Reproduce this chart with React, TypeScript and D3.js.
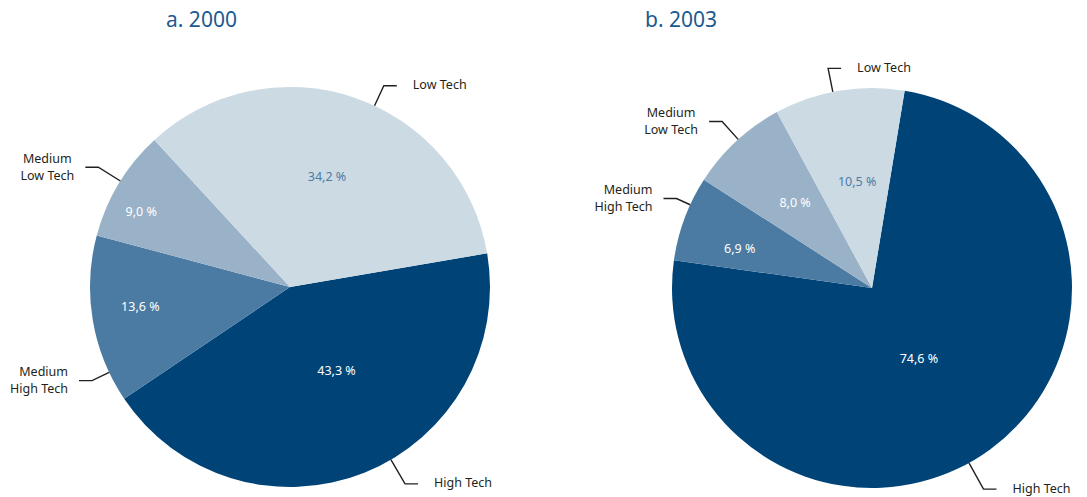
import React from "react";
import * as d3 from "d3";

const categories = ["High Tech", "Medium High Tech", "Medium Low Tech", "Low Tech"];
const values2000 = [43.3, 13.6, 9.0, 34.2];
const values2003 = [74.6, 6.9, 8.0, 10.5];
const titles = ["a. 2000", "b. 2003"];
const nameLines = [["High Tech"], ["Medium", "High Tech"], ["Medium", "Low Tech"], ["Low Tech"]];

const colors = ["#004477", "#4b7aa3", "#9ab2c8", "#ccdae3"];
const pctColors = ["#ffffff", "#ffffff", "#ffffff", "#4e7ca6"];

const W = 1087;
const H = 497;

type Leader = { angle: number; elbow: number; side: "left" | "right"; anchor: "end" | "middle" | "start" };
type PieLayout = {
  cx: number; cy: number; r: number; start: number; titleX: number;
  pct: { angle: number; dist: number }[];
  leaders: Leader[];
};

const layouts: PieLayout[] = [
  {
    cx: 290, cy: 287, r: 200, start: 80.3, titleX: 166,
    pct: [
      { angle: 151, dist: 96 },
      { angle: 262.4, dist: 151 },
      { angle: 297, dist: 167 },
      { angle: 18.6, dist: 116 },
    ],
    leaders: [
      { angle: 149.7, elbow: 228, side: "right", anchor: "start" },
      { angle: 244.7, elbow: 219, side: "left", anchor: "end" },
      { angle: 302, elbow: 226, side: "left", anchor: "middle" },
      { angle: 25, elbow: 222, side: "right", anchor: "start" },
    ],
  },
  {
    cx: 872, cy: 288, r: 200, start: 9.4, titleX: 645,
    pct: [
      { angle: 146.5, dist: 85 },
      { angle: 286.5, dist: 138 },
      { angle: 318, dist: 115 },
      { angle: 352, dist: 107 },
    ],
    leaders: [
      { angle: 151, elbow: 230, side: "right", anchor: "start" },
      { angle: 294.6, elbow: 215, side: "left", anchor: "end" },
      { angle: 318, elbow: 224, side: "left", anchor: "middle" },
      { angle: 348.7, elbow: 224, side: "right", anchor: "start" },
    ],
  },
];

const fmt = (v: number) => d3.format(".1f")(v).replace(".", ",") + " %";
const rad = (deg: number) => (deg * Math.PI) / 180;
const polar = (cx: number, cy: number, a: number, R: number) => [cx + R * Math.sin(rad(a)), cy - R * Math.cos(rad(a))];

const FONT = "'Noto Sans', 'Open Sans', sans-serif";

function PieChart({ values, layout, title }: { values: number[]; layout: PieLayout; title: string }) {
  const pie = d3.pie<number>().sort(null).value((d) => d).startAngle(rad(layout.start)).endAngle(rad(layout.start) + 2 * Math.PI);
  const arcs = pie(values);
  const arcGen = d3.arc<d3.PieArcDatum<number>>().innerRadius(0).outerRadius(layout.r);
  const { cx, cy, r } = layout;
  return (
    <g>
      <text x={layout.titleX} y={27} fontFamily={FONT} fontSize={21} fill="#1b5a8f">{title}</text>
      <g transform={`translate(${cx},${cy})`}>
        {arcs.map((a, i) => (
          <path key={i} d={arcGen(a) || ""} fill={colors[i]} />
        ))}
      </g>
      {arcs.map((a, i) => {
        const p = layout.pct[i];
        const [x, y] = polar(cx, cy, p.angle, p.dist);
        return (
          <text key={"p" + i} x={x} y={y} dy="0.35em" textAnchor="middle" fontFamily={FONT} fontSize={12.5} fill={pctColors[i]}>
            {fmt(a.data)}
          </text>
        );
      })}
      {layout.leaders.map((l, i) => {
        const [x0, y0] = polar(cx, cy, l.angle, r);
        const [x1, y1] = polar(cx, cy, l.angle, l.elbow);
        const dir = l.side === "right" ? 1 : -1;
        const x2 = x1 + dir * 13;
        const lines = nameLines[i];
        let tx: number;
        if (l.side === "right") tx = x2 + 16;
        else if (l.anchor === "middle") tx = x2 - 38;
        else tx = x2 - 11;
        return (
          <g key={"l" + i}>
            <polyline points={`${x0},${y0} ${x1},${y1} ${x2},${y1}`} fill="none" stroke="#231f20" strokeWidth={1.4} />
            {lines.map((t, j) => (
              <text
                key={j}
                x={tx}
                y={lines.length === 1 ? y1 - 1 : y1 - 9 + j * 17}
                dy="0.35em"
                textAnchor={l.anchor}
                fontFamily={FONT}
                fontSize={12.5}
                fill="#231f20"
              >
                {t}
              </text>
            ))}
          </g>
        );
      })}
    </g>
  );
}

export default function App() {
  const data = [values2000, values2003];
  return (
    <div style={{ position: "absolute", left: 0, top: 0, width: W, height: H, background: "#fff" }}>
      <svg width={W} height={H} style={{ display: "block" }}>
        <rect width={W} height={H} fill="#ffffff" />
        {data.map((vals, k) => (
          <PieChart key={k} values={vals} layout={layouts[k]} title={titles[k]} />
        ))}
        <title>{categories.join(", ")}</title>
      </svg>
    </div>
  );
}
